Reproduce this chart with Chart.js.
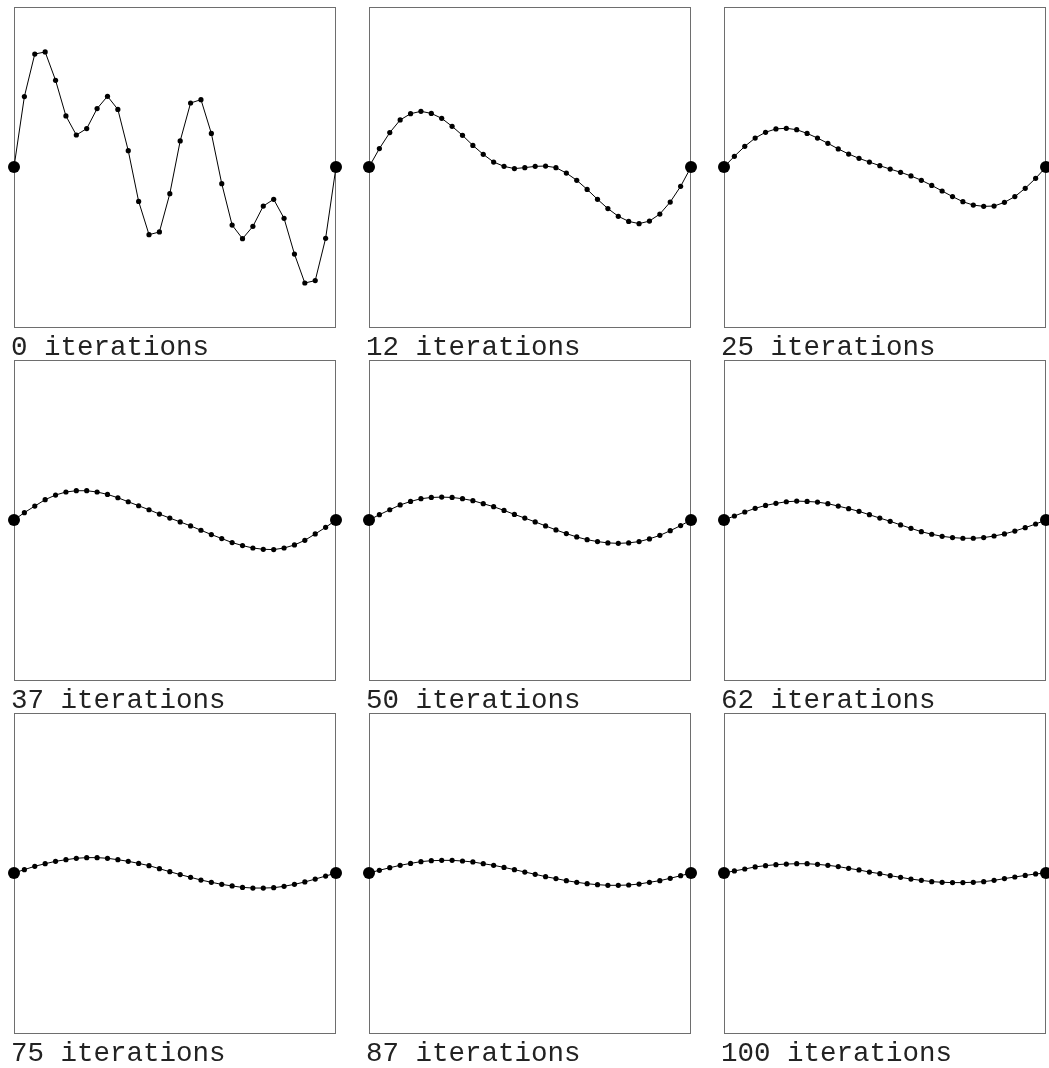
<!DOCTYPE html>
<html>
<head>
<meta charset="utf-8">
<script src="https://cdn.jsdelivr.net/npm/chart.js@4.4.1/dist/chart.umd.min.js"></script>
<style>
  html, body { margin: 0; padding: 0; background: #fff; overflow: hidden; width: 1049px; height: 1068px; }
  .cell { position: absolute; }
  canvas { display: block; }
</style>
</head>
<body>
<div id="wrap"></div>
<script>
// ---- data ----
const iterations = [0, 12, 25, 37, 50, 62, 75, 87, 100];
const pointIndex = Array.from({length: 32}, (_, i) => i);

const s0   = [0, 0.44, 0.706, 0.719, 0.542, 0.319, 0.2, 0.24, 0.365, 0.442, 0.36, 0.102, -0.215, -0.423, -0.406, -0.167, 0.163, 0.4, 0.421, 0.21, -0.104, -0.363, -0.448, -0.371, -0.244, -0.202, -0.321, -0.544, -0.725, -0.71, -0.446, 0];
const s12  = [0, 0.115, 0.215, 0.294, 0.333, 0.348, 0.335, 0.304, 0.254, 0.198, 0.135, 0.079, 0.031, 0.004, -0.01, -0.004, 0.004, 0.006, -0.004, -0.038, -0.083, -0.14, -0.202, -0.26, -0.308, -0.34, -0.354, -0.338, -0.294, -0.219, -0.121, 0];
const s25  = [0, 0.067, 0.129, 0.181, 0.217, 0.238, 0.242, 0.233, 0.21, 0.181, 0.148, 0.113, 0.081, 0.054, 0.031, 0.008, -0.013, -0.033, -0.056, -0.083, -0.115, -0.15, -0.185, -0.217, -0.238, -0.246, -0.244, -0.221, -0.185, -0.133, -0.071, 0];
const s37  = [0, 0.046, 0.087, 0.127, 0.156, 0.175, 0.183, 0.183, 0.175, 0.16, 0.139, 0.114, 0.089, 0.064, 0.037, 0.012, -0.012, -0.037, -0.064, -0.091, -0.116, -0.141, -0.16, -0.175, -0.183, -0.185, -0.175, -0.156, -0.127, -0.087, -0.046, 0];
const s50  = [0, 0.033, 0.064, 0.094, 0.116, 0.133, 0.141, 0.143, 0.141, 0.133, 0.121, 0.102, 0.083, 0.06, 0.035, 0.012, -0.012, -0.037, -0.062, -0.085, -0.106, -0.123, -0.135, -0.143, -0.146, -0.143, -0.135, -0.118, -0.096, -0.067, -0.035, 0];
const s62  = [0, 0.025, 0.05, 0.073, 0.091, 0.104, 0.114, 0.118, 0.116, 0.112, 0.102, 0.087, 0.071, 0.054, 0.033, 0.012, -0.008, -0.031, -0.052, -0.073, -0.089, -0.102, -0.11, -0.114, -0.114, -0.11, -0.1, -0.087, -0.069, -0.048, -0.025, 0];
const s75  = [0, 0.021, 0.042, 0.058, 0.073, 0.083, 0.092, 0.096, 0.096, 0.092, 0.083, 0.073, 0.06, 0.046, 0.027, 0.008, -0.01, -0.027, -0.044, -0.058, -0.071, -0.081, -0.09, -0.094, -0.094, -0.092, -0.083, -0.071, -0.056, -0.038, -0.019, 0];
const s87  = [0, 0.017, 0.033, 0.048, 0.06, 0.071, 0.077, 0.079, 0.079, 0.075, 0.069, 0.058, 0.048, 0.035, 0.021, 0.006, -0.008, -0.023, -0.035, -0.048, -0.058, -0.067, -0.073, -0.077, -0.077, -0.075, -0.069, -0.058, -0.048, -0.033, -0.017, 0];
const s100 = [0, 0.013, 0.025, 0.038, 0.046, 0.052, 0.056, 0.058, 0.058, 0.054, 0.048, 0.04, 0.029, 0.019, 0.006, -0.004, -0.017, -0.027, -0.038, -0.046, -0.054, -0.058, -0.06, -0.06, -0.058, -0.054, -0.046, -0.035, -0.025, -0.015, -0.006, 0];

const seriesList = [s0, s12, s25, s37, s50, s62, s75, s87, s100];
const labelTexts = iterations.map(n => n + ' iterations');

// ---- layout ----
const PANEL_W = 322, PANEL_H = 320;
const colX = [14, 369, 724];
const rowY = [7, 360, 713];
const PAD_L = 12, PAD_R = 12, PAD_T = 8, PAD_B = 34;

const framePlugin = {
  id: 'frame',
  beforeDatasetsDraw(chart) {
    const {ctx, chartArea: a} = chart;
    ctx.save();
    ctx.strokeStyle = '#6e6e6e';
    ctx.lineWidth = 1;
    ctx.strokeRect(Math.round(a.left) + 0.5, Math.round(a.top) + 0.5,
                   Math.round(a.right - a.left) - 1, Math.round(a.bottom - a.top));
    ctx.restore();
  },
  afterDraw(chart, args, opts) {
    const {ctx, chartArea: a} = chart;
    ctx.save();
    ctx.fillStyle = '#222';
    ctx.font = '27.5px "Liberation Mono", "DejaVu Sans Mono", monospace';
    ctx.textBaseline = 'alphabetic';
    ctx.textAlign = 'left';
    ctx.fillText(opts.text, a.left - 3, a.bottom + 28);
    ctx.restore();
  }
};

const wrap = document.getElementById('wrap');
seriesList.forEach((series, k) => {
  const r = Math.floor(k / 3), c = k % 3;
  const w = PANEL_W + PAD_L + PAD_R, h = PANEL_H + PAD_T + PAD_B;
  const div = document.createElement('div');
  div.className = 'cell';
  div.style.left = (colX[c] - PAD_L) + 'px';
  div.style.top = (rowY[r] - PAD_T) + 'px';
  const cv = document.createElement('canvas');
  cv.width = w; cv.height = h;
  cv.style.width = w + 'px'; cv.style.height = h + 'px';
  div.appendChild(cv);
  wrap.appendChild(div);
  const last = series.length - 1;
  new Chart(cv, {
    type: 'line',
    data: {
      labels: pointIndex,
      datasets: [{
        data: series,
        borderColor: '#000',
        borderWidth: 1,
        backgroundColor: '#000',
        pointBackgroundColor: '#000',
        pointBorderWidth: 0,
        pointRadius: ctx => (ctx.dataIndex === 0 || ctx.dataIndex === last) ? 6 : 2.6,
        tension: 0,
        fill: false,
        clip: false
      }]
    },
    options: {
      responsive: false,
      animation: false,
      events: [],
      layout: { padding: { left: PAD_L, right: PAD_R, top: PAD_T, bottom: PAD_B } },
      scales: {
        x: { type: 'linear', min: 0, max: 31, display: false },
        y: { type: 'linear', min: -1, max: 1, display: false }
      },
      plugins: {
        legend: { display: false },
        tooltip: { enabled: false },
        frame: { text: labelTexts[k] }
      }
    },
    plugins: [framePlugin]
  });
});
</script>
</body>
</html>
